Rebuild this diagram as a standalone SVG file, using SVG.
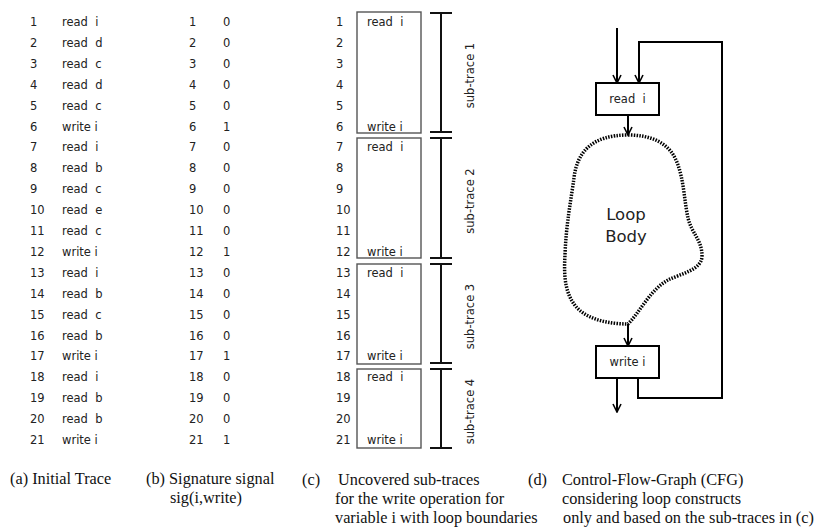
<svg xmlns="http://www.w3.org/2000/svg" width="818" height="527" viewBox="0 0 818 527">
<style>
.t{font-family:"DejaVu Sans",sans-serif;font-size:11.5px;fill:#222;white-space:pre}
.cap{font-family:"Liberation Serif",serif;font-size:16.3px;fill:#111}
.big{font-family:"DejaVu Sans",sans-serif;font-size:16.5px;fill:#222;text-anchor:middle}
.box{fill:none;stroke:#555;stroke-width:1.4}
.br{stroke:#111;stroke-width:2;fill:none}
.node{fill:#fff;stroke:#000;stroke-width:2}
.con{fill:none;stroke:#000;stroke-width:2}
.mid{text-anchor:middle}
</style>
<defs>
<marker id="arr" viewBox="0 0 10 10" refX="9" refY="5" markerWidth="10" markerHeight="10" markerUnits="userSpaceOnUse" orient="auto"><path d="M1,1 L9,5 L1,9" fill="none" stroke="#000" stroke-width="1.6"/></marker>
</defs>
<rect width="818" height="527" fill="#fff"/>

<g id="trace-a" class="t">
<text x="30" y="26">1</text><text x="62" y="26" xml:space="preserve">read  i</text>
<text x="30" y="46.9">2</text><text x="62" y="46.9" xml:space="preserve">read  d</text>
<text x="30" y="67.8">3</text><text x="62" y="67.8" xml:space="preserve">read  c</text>
<text x="30" y="88.7">4</text><text x="62" y="88.7" xml:space="preserve">read  d</text>
<text x="30" y="109.6">5</text><text x="62" y="109.6" xml:space="preserve">read  c</text>
<text x="30" y="130.5">6</text><text x="62" y="130.5">write i</text>
<text x="30" y="151.4">7</text><text x="62" y="151.4" xml:space="preserve">read  i</text>
<text x="30" y="172.3">8</text><text x="62" y="172.3" xml:space="preserve">read  b</text>
<text x="30" y="193.2">9</text><text x="62" y="193.2" xml:space="preserve">read  c</text>
<text x="30" y="214.1">10</text><text x="62" y="214.1" xml:space="preserve">read  e</text>
<text x="30" y="235">11</text><text x="62" y="235" xml:space="preserve">read  c</text>
<text x="30" y="255.9">12</text><text x="62" y="255.9">write i</text>
<text x="30" y="276.8">13</text><text x="62" y="276.8" xml:space="preserve">read  i</text>
<text x="30" y="297.7">14</text><text x="62" y="297.7" xml:space="preserve">read  b</text>
<text x="30" y="318.6">15</text><text x="62" y="318.6" xml:space="preserve">read  c</text>
<text x="30" y="339.5">16</text><text x="62" y="339.5" xml:space="preserve">read  b</text>
<text x="30" y="360.4">17</text><text x="62" y="360.4">write i</text>
<text x="30" y="381.3">18</text><text x="62" y="381.3" xml:space="preserve">read  i</text>
<text x="30" y="402.2">19</text><text x="62" y="402.2" xml:space="preserve">read  b</text>
<text x="30" y="423.1">20</text><text x="62" y="423.1" xml:space="preserve">read  b</text>
<text x="30" y="444">21</text><text x="62" y="444">write i</text>
</g>

<g id="signal-b" class="t">
<text x="189" y="26">1</text><text x="223" y="26">0</text>
<text x="189" y="46.9">2</text><text x="223" y="46.9">0</text>
<text x="189" y="67.8">3</text><text x="223" y="67.8">0</text>
<text x="189" y="88.7">4</text><text x="223" y="88.7">0</text>
<text x="189" y="109.6">5</text><text x="223" y="109.6">0</text>
<text x="189" y="130.5">6</text><text x="223" y="130.5">1</text>
<text x="189" y="151.4">7</text><text x="223" y="151.4">0</text>
<text x="189" y="172.3">8</text><text x="223" y="172.3">0</text>
<text x="189" y="193.2">9</text><text x="223" y="193.2">0</text>
<text x="189" y="214.1">10</text><text x="223" y="214.1">0</text>
<text x="189" y="235">11</text><text x="223" y="235">0</text>
<text x="189" y="255.9">12</text><text x="223" y="255.9">1</text>
<text x="189" y="276.8">13</text><text x="223" y="276.8">0</text>
<text x="189" y="297.7">14</text><text x="223" y="297.7">0</text>
<text x="189" y="318.6">15</text><text x="223" y="318.6">0</text>
<text x="189" y="339.5">16</text><text x="223" y="339.5">0</text>
<text x="189" y="360.4">17</text><text x="223" y="360.4">1</text>
<text x="189" y="381.3">18</text><text x="223" y="381.3">0</text>
<text x="189" y="402.2">19</text><text x="223" y="402.2">0</text>
<text x="189" y="423.1">20</text><text x="223" y="423.1">0</text>
<text x="189" y="444">21</text><text x="223" y="444">1</text>
</g>

<g id="subtraces-c">
<g class="t">
<text x="336" y="26">1</text><text x="336" y="46.9">2</text><text x="336" y="67.8">3</text><text x="336" y="88.7">4</text><text x="336" y="109.6">5</text><text x="336" y="130.5">6</text>
<text x="336" y="151.4">7</text><text x="336" y="172.3">8</text><text x="336" y="193.2">9</text><text x="336" y="214.1">10</text><text x="336" y="235">11</text><text x="336" y="255.9">12</text>
<text x="336" y="276.8">13</text><text x="336" y="297.7">14</text><text x="336" y="318.6">15</text><text x="336" y="339.5">16</text><text x="336" y="360.4">17</text>
<text x="336" y="381.3">18</text><text x="336" y="402.2">19</text><text x="336" y="423.1">20</text><text x="336" y="444">21</text>
<text x="367" y="26" xml:space="preserve">read  i</text><text x="367" y="130.5">write i</text>
<text x="367" y="151.4" xml:space="preserve">read  i</text><text x="367" y="255.9">write i</text>
<text x="367" y="276.8" xml:space="preserve">read  i</text><text x="367" y="360.4">write i</text>
<text x="367" y="381.3" xml:space="preserve">read  i</text><text x="367" y="444">write i</text>
</g>
<g id="subtrace-box-1"><rect class="box" x="357" y="12" width="64" height="121"/></g>
<g id="subtrace-box-2"><rect class="box" x="357" y="138" width="64" height="120"/></g>
<g id="subtrace-box-3"><rect class="box" x="357" y="264" width="64" height="100"/></g>
<g id="subtrace-box-4"><rect class="box" x="357" y="369" width="64" height="79"/></g>
<g id="bracket-1"><path class="br" d="M441,13V132M430,13H452M430,132H452"/><text class="t mid" transform="rotate(-90 474 75.5)" x="474" y="75.5">sub-trace 1</text></g>
<g id="bracket-2"><path class="br" d="M441,138V258M430,138H452M430,258H452"/><text class="t mid" transform="rotate(-90 474 201)" x="474" y="201">sub-trace 2</text></g>
<g id="bracket-3"><path class="br" d="M441,264V363M430,264H452M430,363H452"/><text class="t mid" transform="rotate(-90 474 316.5)" x="474" y="316.5">sub-trace 3</text></g>
<g id="bracket-4"><path class="br" d="M441,369V448M430,369H452M430,448H452"/><text class="t mid" transform="rotate(-90 474 411.5)" x="474" y="411.5">sub-trace 4</text></g>
</g>

<g id="cfg-d">
<g id="connectors">
<path class="con" d="M617,28V83" marker-end="url(#arr)"/>
<path class="con" d="M638,378V398H722V42H639V83" marker-end="url(#arr)"/>
<path class="con" d="M628,115V135" marker-end="url(#arr)"/>
<path class="con" d="M628,324V346" marker-end="url(#arr)"/>
<path class="con" d="M617,378V412" marker-end="url(#arr)"/>
</g>
<g id="node-read">
<rect class="node" x="596" y="83" width="63" height="32"/>
<text class="t mid" x="627.5" y="103" xml:space="preserve">read  i</text>
</g>
<g id="node-loop-body">
<path d="M628,135 C650,135 668,142 676,160 C684,178 684,200 688,218 C692,234 702,240 702,256 C702,270 680,274 668,280 C650,290 640,312 628,324 C610,324 585,320 574,304 C564,290 564,272 565,255 C566,225 571,200 574,178 C577,152 592,135 628,135 Z" fill="none" stroke="#000" stroke-width="3.5" stroke-dasharray="1.5 1.3"/>
<text class="big" x="626" y="220">Loop</text>
<text class="big" x="626" y="242">Body</text>
</g>
<g id="node-write">
<rect class="node" x="596" y="346" width="63" height="32"/>
<text class="t mid" x="627.5" y="366">write i</text>
</g>
</g>

<g id="captions" class="cap">
<text x="10" y="484">(a) Initial Trace</text>
<text x="146" y="484">(b) Signature signal</text>
<text x="170" y="503">sig(i,write)</text>
<text x="302" y="485">(c)</text>
<text x="338" y="485">Uncovered sub-traces</text>
<text x="335" y="504">for the write operation for</text>
<text x="335" y="523">variable i with loop boundaries</text>
<text x="528" y="485">(d)</text>
<text x="562" y="485">Control-Flow-Graph (CFG)</text>
<text x="562" y="504">considering loop constructs</text>
<text x="563" y="523">only and based on the sub-traces in (c)</text>
</g>
</svg>
